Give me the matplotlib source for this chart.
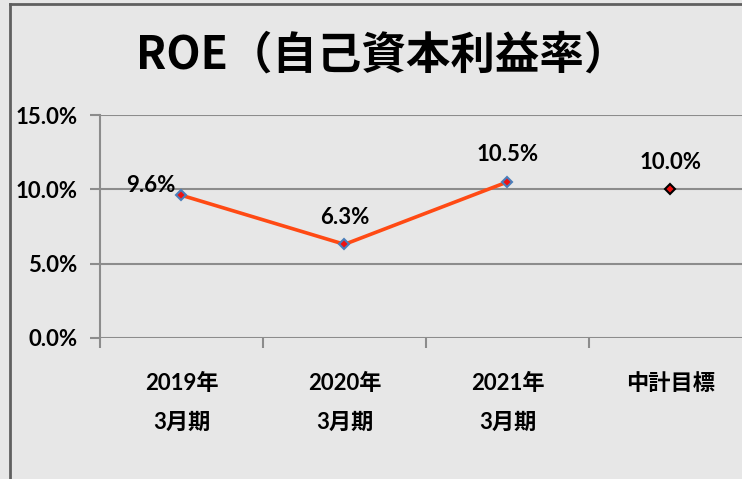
import matplotlib
matplotlib.use("Agg")
import matplotlib.pyplot as plt
from matplotlib.ticker import FixedLocator, PercentFormatter

plt.rcParams["font.family"] = ["Lato", "Noto Sans CJK JP", "DejaVu Sans"]
plt.rcParams["font.weight"] = "bold"

# data
categories = ["2019年\n3月期", "2020年\n3月期", "2021年\n3月期", "中計目標"]
roe_actual = [9.6, 6.3, 10.5]
roe_target = 10.0
yticks = [0, 5, 10, 15]

fig = plt.figure(figsize=(7.42, 4.79), dpi=100)
fig.patch.set_facecolor("#e7e7e7")

# outer frame (left and top edges visible)
fig.add_artist(plt.Line2D([10 / 742, 10 / 742], [0, 1 - 4 / 479],
                          color="#606060", lw=2, transform=fig.transFigure))
fig.add_artist(plt.Line2D([10 / 742, 1], [1 - 4 / 479, 1 - 4 / 479],
                          color="#606060", lw=2, transform=fig.transFigure))

fig.text(382 / 742, 1 - 56 / 479, "ROE（自己資本利益率）", ha="center", va="center",
         fontsize=32, fontweight="bold", family=["Noto Sans CJK JP"])

ax = fig.add_axes([100 / 742, 1 - 338 / 479, 652 / 742, 223 / 479])
ax.set_facecolor("none")

x_act = list(range(len(roe_actual)))
ax.plot(x_act, roe_actual, color="#ff4a14", lw=2.6, marker="D", ms=5,
        mfc="#ee1111", mec="#4a7ebb", mew=1.5, zorder=3)
ax.plot([len(roe_actual)], [roe_target], linestyle="none", marker="D", ms=5,
        mfc="#ee1111", mec="black", mew=1.5, zorder=3)

lab_kw = dict(textcoords="offset points", fontsize=16, fontweight="bold",
              color="black")
for i, v in enumerate(roe_actual):
    if i == 0:
        ax.annotate(f"{v:.1f}%", (i, v), xytext=(-4, 7), ha="right", va="center",
                    **lab_kw)
    else:
        ax.annotate(f"{v:.1f}%", (i, v), xytext=(0, 12), ha="center", va="bottom",
                    **lab_kw)
ax.annotate(f"{roe_target:.1f}%", (len(roe_actual), roe_target), xytext=(0, 12),
            ha="center", va="bottom", **lab_kw)

ax.set_xlim(-0.5, len(categories) - 0.5)
ax.set_ylim(0, 15)
ax.yaxis.set_major_locator(FixedLocator(yticks))
ax.yaxis.set_major_formatter(PercentFormatter(decimals=1))
ax.grid(axis="y", color="#8c8c8c", lw=1.5)

ax.set_xticks([i - 0.5 for i in range(len(categories))])
ax.set_xticklabels([])
ax.set_xticks(range(len(categories)), minor=True)
ax.set_xticklabels(categories, minor=True, fontsize=16, fontweight="bold",
                   linespacing=2.05)
ax.tick_params(axis="x", which="major", length=7, width=1.5, color="#8c8c8c",
               direction="out")
ax.tick_params(axis="x", which="minor", length=0, pad=25)
ax.tick_params(axis="y", length=7, width=1.5, color="#8c8c8c", pad=9,
               labelsize=16)
for t in ax.get_yticklabels():
    t.set_fontweight("bold")

for s in ["top", "right", "bottom"]:
    ax.spines[s].set_visible(False)
ax.spines["left"].set_color("#8c8c8c")
ax.spines["left"].set_linewidth(1.5)

fig.savefig("out.png", dpi=100, facecolor=fig.get_facecolor())
